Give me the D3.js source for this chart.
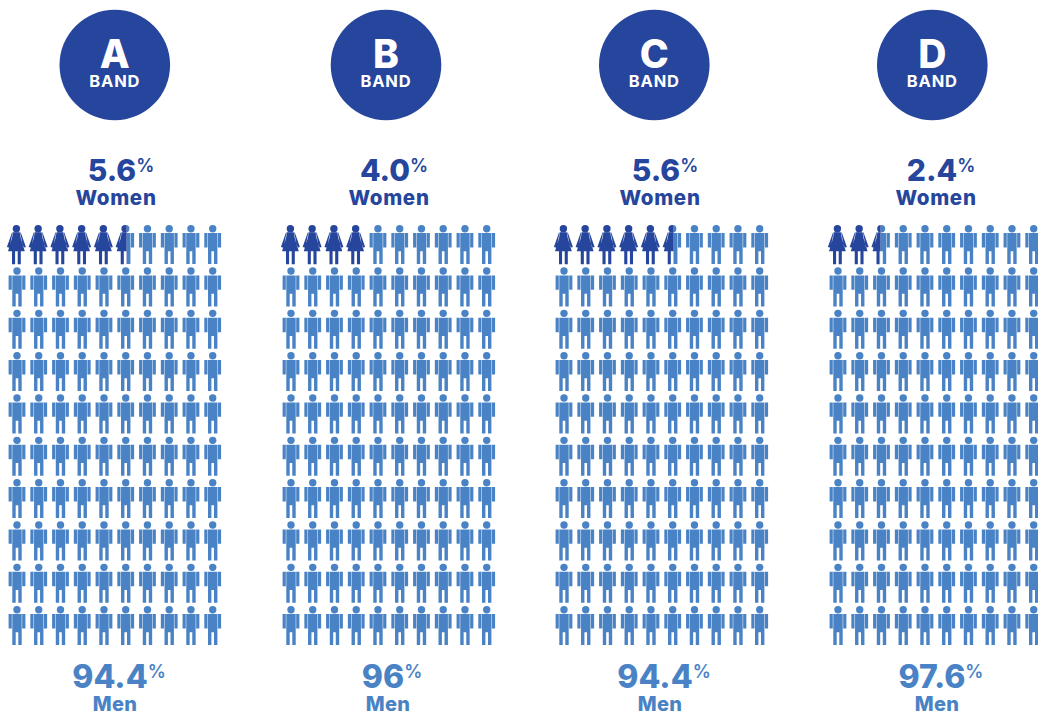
<!DOCTYPE html>
<html>
<head>
<meta charset="utf-8">
<style>
html,body{margin:0;padding:0;background:#fff;overflow:hidden}
svg{display:block}
text{font-family:Inter,"Open Sans",sans-serif}
</style>
<script src="https://cdn.jsdelivr.net/npm/d3@7/dist/d3.min.js"></script>
</head>
<body>
<svg id="chart" width="1038" height="715"></svg>
<script>
var bands = ["A","B","C","D"];
var womenPct = [5.6,4.0,5.6,2.4];
var womenLabels = ["5.6","4.0","5.6","2.4"];
var menLabels = ["94.4","96","94.4","97.6"];

var rowCount = 10, colCount = 10;
var dark = "#26459c", light = "#4a83c5";

// where each panel sits on the page
var gridLeft = [17,291,564,838];
var circleX = [114.8,386,654.3,932.3];
var womenX = [116,389,660,936];
var menX = [115,388,660,937];

var manBody = "M-8.4,4.4h3.2v14.4h-3.2zM5.2,4.4h3.2v14.4h-3.2zM-4.7,4.4h9.4v31h-3.4v-12.8h-2.6v12.8h-3.4z";
var womanBody = "M-3.4,3.6h6.8l1,6l4,12.9h-16.8l4,-12.9z"
	+ "M-4.4,22.5h3.1v13h-3.1zM1.3,22.5h3.1v13h-3.1z"
	+ "M-4.4,3.8l.6,0l-3.1,15.2l-2.6,-.7zM4.4,3.8l-.6,0l3.1,15.2l2.6,-.7z";

var svg = d3.select("#chart");
var defs = svg.append("defs");

var yRow = d3.scaleLinear().domain([0,rowCount-1]).range([228.7,609.7]);
var cutX = d3.scaleLinear().domain([0,1]).range([-4.5,4.5]);

function drawIcon(g, kind, x, y, clipId){
	var icon = g.append("g").attr("transform","translate(" + [x,y] + ")");
	if(clipId) icon.attr("clip-path","url(#" + clipId + ")");
	var color = kind == "woman" ? dark : light;
	icon.append("circle").attr("r",3.7).attr("cx",kind == "woman" ? -0.6 : 0).attr("fill",color);
	icon.append("path")
		.attr("d",kind == "woman" ? womanBody : manBody)
		.attr("transform",kind == "woman" ? "translate(-0.6,0)" : null)
		.attr("fill",color);
}

bands.forEach(function(band,b){
	var xCol = d3.scalePoint().domain(d3.range(colCount)).range([gridLeft[b],gridLeft[b]+195.7]);
	var g = svg.append("g").attr("class","band");

	g.append("circle").attr("cx",circleX[b]).attr("cy",65).attr("r",55.3).attr("fill",dark);
	g.append("text").attr("x",circleX[b]).attr("y",68).attr("text-anchor","middle")
		.attr("font-size",39).attr("font-weight",800).attr("letter-spacing",0).attr("fill","#fff").text(band);
	g.append("text").attr("x",circleX[b]).attr("y",87).attr("text-anchor","middle")
		.attr("font-size",16.5).attr("font-weight",700).attr("letter-spacing",0.8).attr("fill","#fff").text("BAND");

	var w = g.append("text").attr("x",womenX[b]+5).attr("y",181).attr("text-anchor","middle").attr("fill",dark);
	w.append("tspan").attr("font-size",30).attr("font-weight",800).text(womenLabels[b]);
	w.append("tspan").attr("font-size",18).attr("font-weight",600).attr("dy",-9).text("%");
	g.append("text").attr("x",womenX[b]).attr("y",205).attr("text-anchor","middle")
		.attr("font-size",20.5).attr("font-weight",800).attr("letter-spacing",0.7).attr("fill",dark).text("Women");

	var m = g.append("text").attr("x",menX[b]+4).attr("y",688).attr("text-anchor","middle").attr("fill",light);
	m.append("tspan").attr("font-size",32).attr("font-weight",800).text(menLabels[b]);
	m.append("tspan").attr("font-size",18).attr("font-weight",600).attr("dy",-10).text("%");
	g.append("text").attr("x",menX[b]).attr("y",711).attr("text-anchor","middle")
		.attr("font-size",20).attr("font-weight",800).attr("letter-spacing",0.3).attr("fill",light).text("Men");

	// one icon is one percent, filled row by row from the top left
	var whole = Math.floor(womenPct[b]);
	var part = womenPct[b] - whole;
	d3.range(rowCount*colCount).forEach(function(i){
		var x = xCol(i % colCount), y = yRow(Math.floor(i / colCount));
		if(i < whole){
			drawIcon(g,"woman",x,y);
		}
		else if(i == whole && part > 0.001){
			var idL = "cutL" + b, idR = "cutR" + b;
			defs.append("clipPath").attr("id",idL).append("rect")
				.attr("x",-12).attr("y",-6).attr("width",12+cutX(part)).attr("height",44);
			defs.append("clipPath").attr("id",idR).append("rect")
				.attr("x",cutX(part)).attr("y",-6).attr("width",12-cutX(part)).attr("height",44);
			drawIcon(g,"man",x,y,idR);
			drawIcon(g,"woman",x,y,idL);
		}
		else{
			drawIcon(g,"man",x,y);
		}
	});
});
</script>
</body>
</html>
